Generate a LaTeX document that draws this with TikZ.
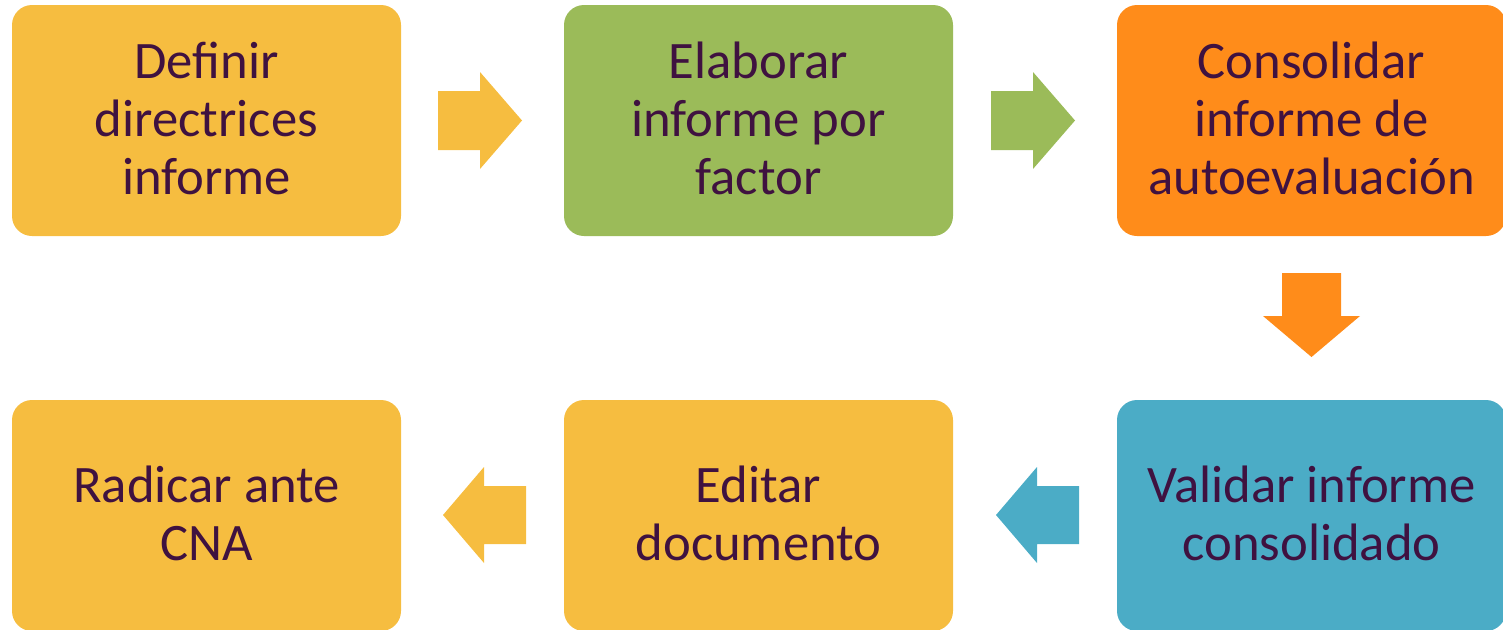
\documentclass[tikz,border=0pt]{standalone}
\usepackage{fontspec}
\setmainfont{Carlito}
\definecolor{cyel}{HTML}{F6BD40}
\definecolor{cgrn}{HTML}{9BBB59}
\definecolor{corg}{HTML}{FF8C1A}
\definecolor{cblu}{HTML}{4BACC6}
\definecolor{ctxt}{HTML}{3F1240}
\begin{document}
\begin{tikzpicture}[x=0.75pt,y=-0.75pt,
  stepbox/.style={rectangle,rounded corners=15pt,minimum width=291.75pt,minimum height=173.25pt,
    inner sep=0pt,align=center,text=ctxt,font=\fontsize{39.5}{43.5}\selectfont},
  steptext/.style={text=ctxt,align=center,inner sep=0pt,font=\fontsize{39.5}{43.5}\selectfont}]
\useasboundingbox (0,0) rectangle (1503,629);
\clip (0,0) rectangle (1503,629);
\node[stepbox,fill=cyel] (a) at (206.5,120.5) {};
\node[stepbox,fill=cgrn] (b) at (758.5,120.5) {};
\node[stepbox,fill=corg] (c) at (1311.5,120.5) {};
\node[stepbox,fill=cblu] (d) at (1311.5,515.5) {};
\node[stepbox,fill=cyel] (e) at (758.5,515.5) {};
\node[stepbox,fill=cyel] (f) at (206.5,515.5) {};
\node[steptext,yshift=1.5pt] (ta) at (a) {Definir\\directrices\\informe};
\node[steptext,yshift=1.5pt] (tb) at (b) {Elaborar\\informe por\\factor};
\node[steptext,yshift=1.5pt] (tc) at (c) {Consolidar\\informe de\\autoevaluación};
\node[steptext,yshift=1.5pt] (td) at (d) {Validar informe\\consolidado};
\node[steptext,yshift=1.5pt] (te) at (e) {Editar\\documento};
\node[steptext,yshift=1.5pt] (tf) at (f) {Radicar ante\\CNA};
% block arrows
\fill[cyel] (438,91) -- (480,91) -- (480,72) -- (522,120.5) -- (480,169) -- (480,150) -- (438,150) -- cycle;
\fill[cgrn] (991,91) -- (1033,91) -- (1033,72) -- (1075,120.5) -- (1033,169) -- (1033,150) -- (991,150) -- cycle;
\fill[corg] (1282,273) -- (1341,273) -- (1341,316) -- (1360,316) -- (1311.5,357) -- (1263,316) -- (1282,316) -- cycle;
\fill[cblu] (1079,486) -- (1037,486) -- (1037,467) -- (996,515) -- (1037,563) -- (1037,544) -- (1079,544) -- cycle;
\fill[cyel] (526,486) -- (484,486) -- (484,467) -- (443,515) -- (484,563) -- (484,544) -- (526,544) -- cycle;
\end{tikzpicture}
\end{document}
